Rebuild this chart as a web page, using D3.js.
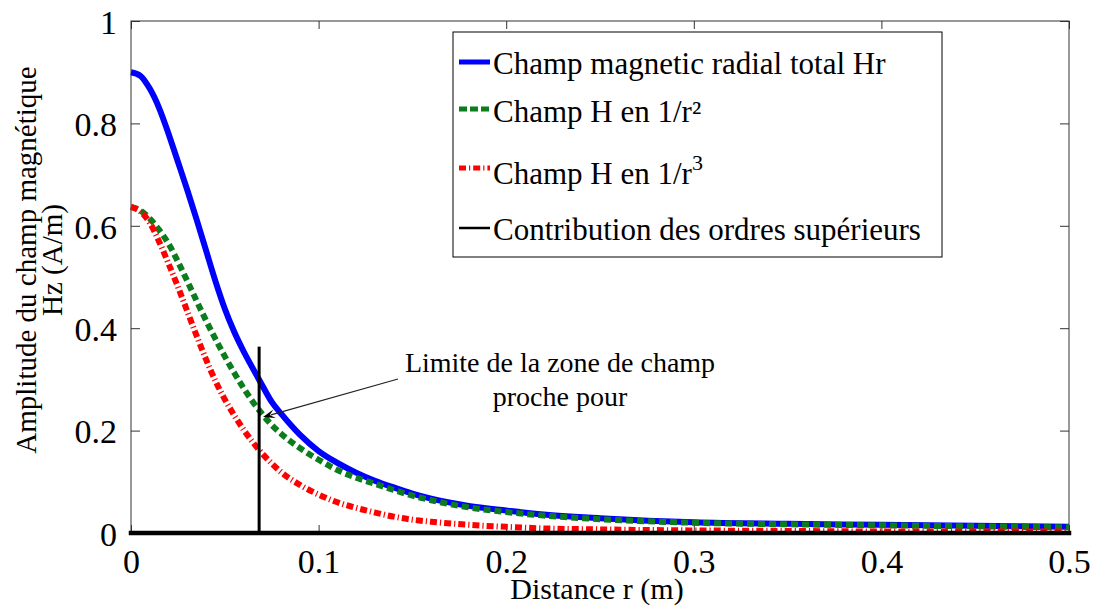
<!DOCTYPE html>
<html>
<head>
<meta charset="utf-8">
<script src="https://cdn.jsdelivr.net/npm/d3@7"></script>
<style>
  html, body { margin: 0; padding: 0; background: #fff; }
  svg { display: block; }
  text { font-family: "Liberation Serif", "Times New Roman", serif; fill: #000; }
</style>
</head>
<body>
<svg id="chart" width="1094" height="607"></svg>
<script>
// ---- Data ----
const distances = [0, 0.005, 0.01, 0.015, 0.02, 0.025, 0.03, 0.035, 0.04, 0.045, 0.05, 0.055, 0.06, 0.065, 0.07, 0.075, 0.08, 0.09, 0.10, 0.11, 0.12, 0.13, 0.14, 0.15, 0.16, 0.18, 0.20, 0.22, 0.25, 0.30, 0.35, 0.40, 0.45, 0.50];
const hrTotal = [0.900, 0.893, 0.868, 0.830, 0.780, 0.725, 0.670, 0.612, 0.552, 0.492, 0.438, 0.393, 0.355, 0.321, 0.288, 0.256, 0.233, 0.192, 0.160, 0.137, 0.118, 0.102, 0.089, 0.077, 0.067, 0.053, 0.044, 0.036, 0.029, 0.021, 0.018, 0.016, 0.014, 0.012];
const hR2 = [0.637, 0.630, 0.614, 0.592, 0.565, 0.530, 0.492, 0.453, 0.415, 0.379, 0.345, 0.313, 0.283, 0.256, 0.232, 0.211, 0.194, 0.166, 0.143, 0.123, 0.108, 0.096, 0.084, 0.073, 0.064, 0.050, 0.041, 0.034, 0.027, 0.020, 0.017, 0.015, 0.013, 0.011];
const hR3 = [0.637, 0.628, 0.606, 0.569, 0.526, 0.481, 0.433, 0.385, 0.339, 0.297, 0.261, 0.230, 0.202, 0.177, 0.155, 0.136, 0.119, 0.094, 0.075, 0.060, 0.049, 0.040, 0.032, 0.026, 0.022, 0.016, 0.012, 0.009, 0.007, 0.005, 0.004, 0.003, 0.003, 0.003];
const higherOrders = [0, 0, 0, 0, 0, 0, 0, 0, 0, 0, 0, 0, 0, 0, 0, 0, 0, 0, 0, 0, 0, 0, 0, 0, 0, 0, 0, 0, 0, 0, 0, 0, 0, 0];
const xTicks = [0, 0.1, 0.2, 0.3, 0.4, 0.5];
const yTicks = [0, 0.2, 0.4, 0.6, 0.8, 1];
const limitR = 0.0683;      // near-field limit marker
const limitTop = 0.364;
const seriesNames = ["Champ magnetic radial total Hr", "Champ H en 1/r\u00B2", "Champ H en 1/r", "Contribution des ordres sup\u00E9rieurs"];

// ---- Layout ----
const W = 1094, H = 607;
const margin = {left: 131, top: 21, right: 25, bottom: 74};
const svg = d3.select("#chart");
const x = d3.scaleLinear().domain([0, 0.5]).range([margin.left, W - margin.right]);
const y = d3.scaleLinear().domain([0, 1]).range([H - margin.bottom, margin.top]);

const axisColor = "#333";
// plot box
svg.append("rect")
  .attr("x", x(0)).attr("y", y(1))
  .attr("width", x(0.5) - x(0)).attr("height", y(0) - y(1))
  .attr("fill", "none").attr("stroke", axisColor).attr("stroke-width", 1);

// axes with inward ticks
const fmt = d => d === 0 ? "0" : d3.format("")(d);
const xAxisB = svg.append("g").attr("transform", `translate(0,${y(0)})`)
  .call(d3.axisBottom(x).tickValues(xTicks).tickSizeInner(-8).tickSizeOuter(0).tickPadding(16).tickFormat(fmt));
const xAxisT = svg.append("g").attr("transform", `translate(0,${y(1)})`)
  .call(d3.axisTop(x).tickValues(xTicks).tickSizeInner(-8).tickSizeOuter(0).tickFormat(""));
const yAxisL = svg.append("g").attr("transform", `translate(${x(0)},0)`)
  .call(d3.axisLeft(y).tickValues(yTicks).tickSizeInner(-9).tickSizeOuter(0).tickPadding(14).tickFormat(fmt));
const yAxisR = svg.append("g").attr("transform", `translate(${x(0.5)},0)`)
  .call(d3.axisRight(y).tickValues(yTicks).tickSizeInner(-9).tickSizeOuter(0).tickFormat(""));
[xAxisB, xAxisT, yAxisL, yAxisR].forEach(g => {
  g.select(".domain").remove();
  g.selectAll(".tick line").attr("stroke", axisColor).attr("stroke-width", 1);
});
xAxisB.selectAll(".tick text").attr("font-size", 34).attr("fill", "#000");
yAxisL.selectAll(".tick text").attr("font-size", 34).attr("fill", "#000").attr("dy", "0.36em");

// ---- Lines ----
const mk = vals => d3.line().x((d, i) => x(distances[i])).y(d => y(d)).curve(d3.curveMonotoneX)(vals);

svg.append("path").attr("d", mk(hrTotal)).attr("fill", "none")
  .attr("stroke", "#0000ff").attr("stroke-width", 6);
svg.append("path").attr("d", mk(hR2)).attr("fill", "none")
  .attr("stroke", "#0b7d1c").attr("stroke-width", 6).attr("stroke-dasharray", "7,4");
svg.append("path").attr("d", mk(hR3)).attr("fill", "none")
  .attr("stroke", "#ff0000").attr("stroke-width", 6).attr("stroke-dasharray", "7,3,1.2,3");
svg.append("path").attr("d", mk(higherOrders)).attr("fill", "none")
  .attr("stroke", "#000").attr("stroke-width", 4.5).attr("stroke-linecap", "square");

// vertical limit line
svg.append("line")
  .attr("x1", x(limitR)).attr("x2", x(limitR))
  .attr("y1", y(0)).attr("y2", y(limitTop))
  .attr("stroke", "#000").attr("stroke-width", 3);

// ---- Annotation ----
const ann = svg.append("g");
ann.append("text").attr("x", 560).attr("y", 372).attr("text-anchor", "middle").attr("font-size", 28)
  .text("Limite de la zone de champ");
ann.append("text").attr("x", 560).attr("y", 406).attr("text-anchor", "middle").attr("font-size", 28)
  .text("proche pour");
const tip = [263, 417], start = [398, 379];
ann.append("line").attr("x1", start[0]).attr("y1", start[1]).attr("x2", tip[0] + 8).attr("y2", tip[1] - 2.2)
  .attr("stroke", "#222").attr("stroke-width", 1.2);
{
  const ang = Math.atan2(start[1] - tip[1], start[0] - tip[0]);
  const L = 12, Wd = 4.5;
  const bx = tip[0] + L * Math.cos(ang), by = tip[1] + L * Math.sin(ang);
  const nx = -Math.sin(ang), ny = Math.cos(ang);
  ann.append("path")
    .attr("d", `M${tip[0]},${tip[1]} L${bx + nx * Wd},${by + ny * Wd} L${tip[0] + 7 * Math.cos(ang)},${tip[1] + 7 * Math.sin(ang)} L${bx - nx * Wd},${by - ny * Wd} Z`)
    .attr("fill", "#000");
}

// ---- Legend ----
const lg = svg.append("g");
lg.append("rect").attr("x", 453).attr("y", 32).attr("width", 489).attr("height", 225)
  .attr("fill", "#fff").attr("stroke", "#000").attr("stroke-width", 1);
const legendRows = [
  {name: seriesNames[0], color: "#0000ff", dash: null, w: 5, ly: 62, ty: 74},
  {name: seriesNames[1], color: "#0b7d1c", dash: "8,3", w: 5, ly: 109, ty: 122},
  {name: seriesNames[2], color: "#ff0000", dash: "7,3,1.2,3", w: 5, ly: 168, ty: 184, sup: "3"},
  {name: seriesNames[3], color: "#000", dash: null, w: 2.5, ly: 228, ty: 240}
];
legendRows.forEach(r => {
  const ln = lg.append("line").attr("x1", 459).attr("x2", 490).attr("y1", r.ly).attr("y2", r.ly)
    .attr("stroke", r.color).attr("stroke-width", r.w);
  if (r.dash) ln.attr("stroke-dasharray", r.dash);
  const t = lg.append("text").attr("x", 493).attr("y", r.ty).attr("font-size", 31).text(r.name);
  if (r.sup) t.append("tspan").attr("dy", -14).attr("font-size", 22).text(r.sup);
});

// ---- Axis titles ----
svg.append("text").attr("x", 597).attr("y", 599).attr("text-anchor", "middle").attr("font-size", 30)
  .text("Distance r (m)");
const yl = svg.append("g").attr("transform", "translate(0,260) rotate(-90)");
yl.append("text").attr("x", 0).attr("y", 36).attr("text-anchor", "middle").attr("font-size", 29)
  .text("Amplitude du champ magn\u00E9tique");
yl.append("text").attr("x", 0).attr("y", 62).attr("text-anchor", "middle").attr("font-size", 29)
  .text("Hz (A/m)");

// force serif font everywhere
svg.selectAll("text").style("font-family", "'Liberation Serif', 'Times New Roman', serif");
</script>
</body>
</html>
